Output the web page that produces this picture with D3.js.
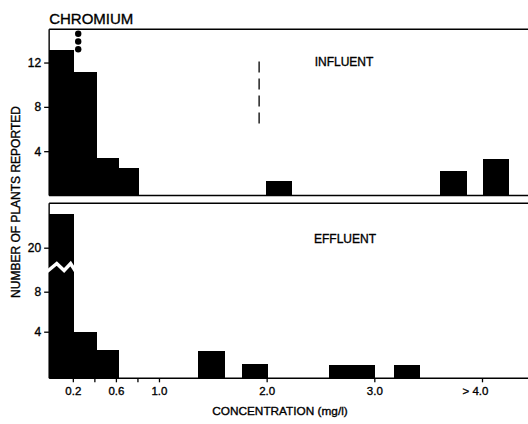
<!DOCTYPE html>
<html>
<head>
<meta charset="utf-8">
<script src="https://cdn.jsdelivr.net/npm/d3@7"></script>
<style>
  body { margin: 0; background: #fff; }
  svg { display: block; font-family: "Liberation Sans", Arial, sans-serif; }
  svg text { stroke: #000; stroke-width: 0.35px; }
</style>
</head>
<body>
<svg width="528" height="424"></svg>
<script>
// ---- data ----
const xTicks = [0.2, 0.4, 0.6, 0.8, 1.0, 2.0, 3.0, 4.0]
const xTickLabels = ['0.2', '', '0.6', '', '1.0', '2.0', '3.0', '> 4.0']

const influentStart = [-0.02, 0.21, 0.42, 0.62, 1.99, 3.61, 4.01]
const influentEnd   = [0.21, 0.42, 0.62, 0.81, 2.23, 3.86, 4.25]
const influentCount = [13.1, 11.15, 3.4, 2.45, 1.35, 2.25, 3.3]

const effluentStart = [-0.02, 0.21, 0.42, 1.365, 1.77, 2.58, 3.18]
const effluentEnd   = [0.21, 0.42, 0.62, 1.61, 2.01, 3.0, 3.42]
const effluentCount = [23, 4, 2.45, 2.35, 1.2, 1.15, 1.12]

const influentTicks = [4, 8, 12]
const effluentTicks = [4, 8, 20]
const offScaleDots = [14.6, 13.9, 13.2]  // dots above the first influent bars
const influentMean = 1.93                // dashed marker

const svg = d3.select('svg')
const xMin = -0.02, xMax = 4.43

const x = d3.scaleLinear().domain([0, 4]).range([51.3, 482])
const yTop = d3.scaleLinear().domain([0, 15]).range([195.5, 29.3])
// broken axis: 0-8 below the break, 20-24 above it
const yBot = d3.scaleLinear().domain([0, 4, 8, 20, 24]).range([378.3, 331.7, 291.7, 247.7, 203.3])

const left = x(xMin), right = x(xMax)

// ---- panel frames ----
const frame = function(sel, y, top, bottom) {
  sel.append('line').attr('x1', left).attr('x2', right).attr('y1', y(top)).attr('y2', y(top))
  sel.append('line').attr('x1', left).attr('x2', right).attr('y1', y(bottom)).attr('y2', y(bottom))
  sel.append('line').attr('x1', left).attr('x2', left).attr('y1', y(top)).attr('y2', y(bottom))
  sel.selectAll('line').attr('stroke', '#000').attr('stroke-width', 1.4)
}

const bars = function(sel, y, starts, ends, counts) {
  sel.selectAll('rect')
    .data(counts)
    .join('rect')
    .attr('x', (d, i) => x(starts[i]))
    .attr('width', (d, i) => x(ends[i]) - x(starts[i]) + 0.5)
    .attr('y', d => y(d))
    .attr('height', d => y(0) - y(d))
    .attr('fill', '#000')
    .attr('shape-rendering', 'crispEdges')
}

const yAxis = function(sel, y, ticks) {
  sel.call(d3.axisLeft(y).tickValues(ticks).tickSize(5).tickPadding(3))
  sel.select('.domain').remove()
  sel.selectAll('line').attr('stroke-width', 1.3)
  sel.selectAll('text').attr('font-size', 12).attr('font-family', '"Liberation Sans", Arial, sans-serif')
}

// top panel: influent
const gTop = svg.append('g')
gTop.append('g').call(bars, yTop, influentStart, influentEnd, influentCount)
gTop.append('g').call(frame, yTop, 15, 0)
gTop.append('g').attr('transform', `translate(${left},0)`).call(yAxis, yTop, influentTicks)

gTop.append('g')
  .selectAll('circle')
  .data(offScaleDots)
  .join('circle')
  .attr('cx', x(0.25))
  .attr('cy', d => yTop(d))
  .attr('r', 3.2)
  .attr('fill', '#000')

gTop.append('line')
  .attr('x1', x(influentMean)).attr('x2', x(influentMean))
  .attr('y1', yTop(12.1)).attr('y2', yTop(6.4))
  .attr('stroke', '#000')
  .attr('stroke-width', 1.3)
  .attr('stroke-dasharray', '11,6')

gTop.append('text')
  .attr('x', 344).attr('y', 66)
  .attr('text-anchor', 'middle')
  .attr('font-size', 12)
  .text('INFLUENT')

// bottom panel: effluent
const gBot = svg.append('g')
gBot.append('g').call(bars, yBot, effluentStart, effluentEnd, effluentCount)
gBot.append('g').call(frame, yBot, 24, 0)
gBot.append('g').attr('transform', `translate(${left},0)`).call(yAxis, yBot, effluentTicks)

// zig-zag break across axis and first bar
{
  const bx0 = left - 2, bx1 = x(effluentEnd[0]) + 1.5
  const yb = yBot(14.6)
  const pts = [[0, 4], [0.34, -4], [0.6, 3], [0.83, -4], [1, 3.5]]
    .map(([f, dy]) => [bx0 + f * (bx1 - bx0), yb + dy])
  gBot.append('path')
    .attr('d', d3.line()(pts))
    .attr('fill', 'none')
    .attr('stroke', '#fff')
    .attr('stroke-width', 3.5)
}

gBot.append('text')
  .attr('x', 345).attr('y', 242.5)
  .attr('text-anchor', 'middle')
  .attr('font-size', 12)
  .text('EFFLUENT')

// x axis
const gx = svg.append('g')
  .attr('transform', `translate(0,${yBot(0)})`)
  .call(d3.axisBottom(x).tickValues(xTicks).tickFormat((d, i) => xTickLabels[i]).tickSize(4).tickPadding(5))
gx.select('.domain').remove()
gx.selectAll('line').attr('stroke-width', 1.3)
gx.selectAll('text')
  .attr('font-size', 11.5)
  .attr('font-family', '"Liberation Sans", Arial, sans-serif')
  .attr('dx', (d, i) => i === xTicks.length - 1 ? -7 : 0)

// titles
svg.append('text')
  .attr('x', left).attr('y', 23.5)
  .attr('font-size', 15)
  .text('CHROMIUM')

svg.append('text')
  .attr('x', 280).attr('y', 414.5)
  .attr('text-anchor', 'middle')
  .attr('font-size', 11.8)
  .text('CONCENTRATION (mg/l)')

svg.append('text')
  .attr('transform', 'translate(20,202) rotate(-90)')
  .attr('text-anchor', 'middle')
  .attr('font-size', 12)
  .text('NUMBER OF PLANTS REPORTED')
</script>
</body>
</html>
